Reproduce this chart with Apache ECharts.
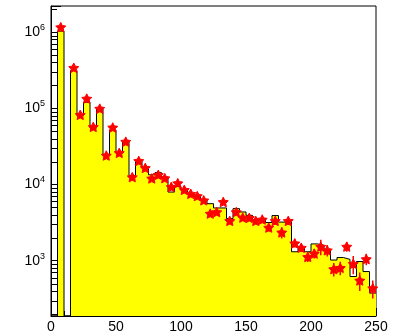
<!DOCTYPE html>
<html>
<head>
<meta charset="utf-8">
<script src="https://cdn.jsdelivr.net/npm/echarts@6/dist/echarts.min.js"></script>
<style>
  html, body { margin: 0; padding: 0; background: #fff; }
  #chart { width: 393px; height: 334px; }
</style>
</head>
<body>
<div id="chart"></div>
<script>
// Bin layout: 50 bins of width 5 over [0, 250]
const binWidth = 5;
const binStarts = [0,5,10,15,20,25,30,35,40,45,50,55,60,65,70,75,80,85,90,95,
  100,105,110,115,120,125,130,135,140,145,150,155,160,165,170,175,180,185,190,195,
  200,205,210,215,220,225,230,235,240,245];

// Simulated distribution (yellow filled histogram)
const simCounts = [0,1030000,0,313000,80000,120000,55000,98000,24500,52000,
  26000,37000,13100,20600,16900,13400,14300,12500,7960,9400,
  8400,7500,6900,6300,5600,4920,4920,3570,4820,4360,
  3940,3470,3570,3170,3910,3210,3210,1310,1450,1310,
  1660,1590,1410,1020,1100,1040,620,975,720,376];

// Measured points (red markers) and their uncertainties
const dataCounts = [null,1160000,null,340000,82000,134000,57000,99000,24000,56000,
  26000,36500,12500,20400,16500,12000,13400,12100,9300,10400,
  8500,7550,7050,6200,4150,4350,5900,3330,4350,3680,
  3650,3330,3470,2720,3330,2350,3330,1690,1480,1120,
  1240,1530,1370,775,805,1530,910,550,1050,435];
const dataErrors = [null,20000,null,8000,2500,3500,1800,2800,900,1700,
  900,1100,500,700,600,500,550,500,450,500,
  450,420,400,380,330,350,470,330,380,330,
  330,330,340,300,360,400,400,200,180,160,
  170,350,235,155,160,215,245,150,180,115];

// Axis setup
const xMin = 0, xMax = 250, xMajor = 50;
const yMin = 188, yMax = 2.2e6;
const yDecades = [1e3, 1e4, 1e5, 1e6];
const labelFont = 'Liberation Sans, Arial, Helvetica, sans-serif';

// Filled five-point star used for the measured points
const starPath = 'path://M50,0L64.7,29.8L97.6,34.5L73.8,57.7L79.4,90.5L50,75L20.6,90.5L26.2,57.7L2.4,34.5L35.3,29.8Z';

// Step outline + fill of the histogram (empty bins drop to the frame bottom)
const stepPoints = [];
binStarts.forEach((x0, i) => {
  const v = simCounts[i] > 0 ? simCounts[i] : yMin;
  stepPoints.push([x0, v], [x0 + binWidth, v]);
});

const markerPoints = [];
const errorItems = [];
binStarts.forEach((x0, i) => {
  if (dataCounts[i] == null) return;
  const xc = x0 + binWidth / 2;
  markerPoints.push([xc, dataCounts[i]]);
  errorItems.push([xc, dataCounts[i] - dataErrors[i], dataCounts[i] + dataErrors[i]]);
});

// Minor log ticks (2..9 x 10^k) inside the frame on the left axis
const minorTickValues = [];
for (let k = 2; k <= 6; k++) {
  for (let m = 2; m <= 9; m++) {
    const v = m * Math.pow(10, k);
    if (v > yMin && v < yMax) minorTickValues.push([xMin, v]);
  }
}

const chart = echarts.init(document.getElementById('chart'), null, { renderer: 'canvas' });

chart.setOption({
  animation: false,
  backgroundColor: '#ffffff',
  grid: {
    left: 51, right: 17, top: 6, bottom: 16,
    show: true, borderColor: '#000', borderWidth: 1, backgroundColor: 'transparent'
  },
  xAxis: {
    type: 'value', min: xMin, max: xMax, interval: xMajor,
    axisLine: { lineStyle: { color: '#000', width: 1 } },
    axisTick: { inside: true, length: 8, lineStyle: { color: '#000', width: 1 } },
    minorTick: { show: true, splitNumber: 5, length: 5, lineStyle: { color: '#000', width: 1 } },
    splitLine: { show: false },
    axisLabel: { color: '#000', fontSize: 14, fontFamily: labelFont, margin: 4 }
  },
  yAxis: {
    type: 'log', logBase: 10, min: yMin, max: yMax,
    axisLine: { lineStyle: { color: '#000', width: 1 } },
    axisTick: { inside: true, length: 10, lineStyle: { color: '#000', width: 1 } },
    splitLine: { show: false },
    axisLabel: {
      margin: 6,
      formatter: function (value) {
        const e = Math.log10(value);
        const r = Math.round(e);
        if (Math.abs(e - r) > 1e-6 || yDecades.indexOf(Math.pow(10, r)) < 0) return '';
        return '{b|10}{s|' + r + '}';
      },
      rich: {
        b: { fontSize: 14, fontFamily: labelFont, color: '#000', lineHeight: 18 },
        s: { fontSize: 9, fontFamily: labelFont, color: '#000', lineHeight: 12, verticalAlign: 'top' }
      }
    }
  },
  series: [
    {
      name: 'simulation',
      type: 'line',
      data: stepPoints,
      symbol: 'none',
      lineStyle: { color: '#000', width: 1 },
      areaStyle: { color: '#ffff00', opacity: 1, origin: 'start' },
      z: 2
    },
    {
      name: 'minorTicks',
      type: 'custom',
      data: minorTickValues,
      clip: false,
      silent: true,
      z: 5,
      renderItem: function (params, api) {
        const p = api.coord([api.value(0), api.value(1)]);
        const y = Math.round(p[1]) + 0.5;
        return {
          type: 'line',
          shape: { x1: p[0], y1: y, x2: p[0] + 6, y2: y },
          style: { stroke: '#000', lineWidth: 1 }
        };
      }
    },
    {
      name: 'errors',
      type: 'custom',
      data: errorItems,
      z: 3,
      renderItem: function (params, api) {
        const lo = api.coord([api.value(0), api.value(1)]);
        const hi = api.coord([api.value(0), api.value(2)]);
        return {
          type: 'line',
          shape: { x1: lo[0], y1: lo[1], x2: hi[0], y2: hi[1] },
          style: { stroke: '#ff0000', lineWidth: 1.5 }
        };
      }
    },
    {
      name: 'data',
      type: 'scatter',
      data: markerPoints,
      symbol: starPath,
      symbolSize: 10,
      symbolKeepAspect: true,
      itemStyle: { color: '#ff0000', opacity: 1, borderColor: '#ff0000', borderWidth: 1 },
      z: 4
    }
  ]
});
</script>
</body>
</html>
